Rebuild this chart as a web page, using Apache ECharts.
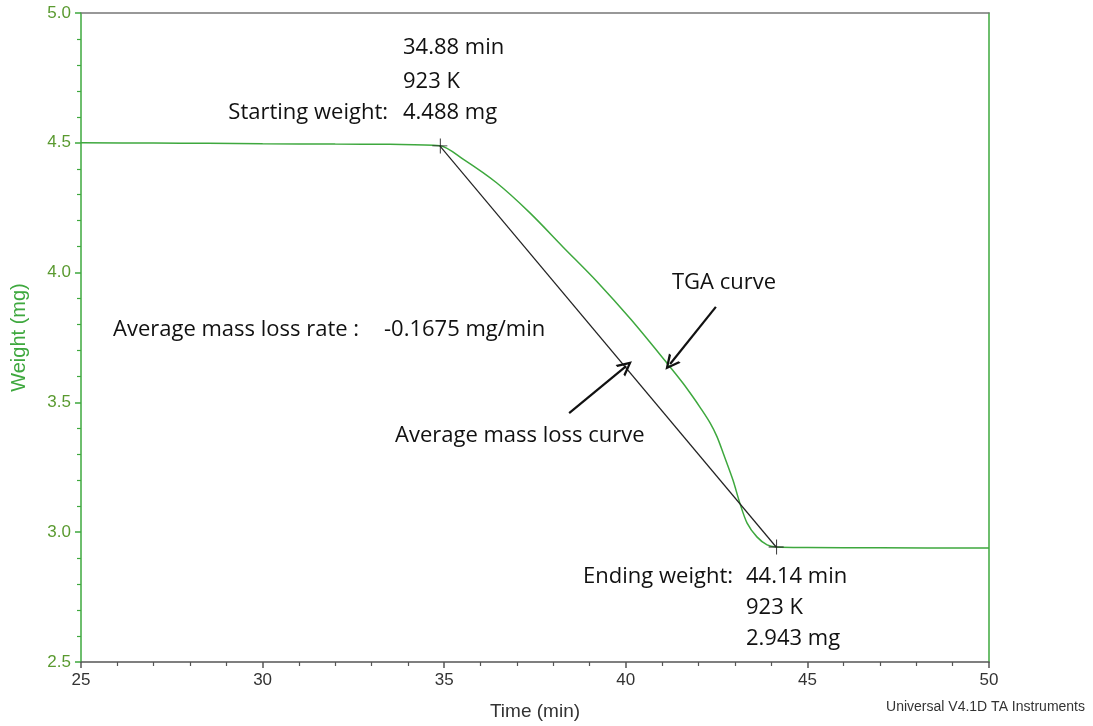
<!DOCTYPE html>
<html>
<head>
<meta charset="utf-8">
<script src="https://cdn.jsdelivr.net/npm/echarts@6/dist/echarts.min.js"></script>
<style>html,body{margin:0;padding:0;background:#fff}#c{width:1093px;height:726px}</style>
</head>
<body>
<div id="c"></div>
<script>
// TGA curve: time (min) and weight (mg)
const tgaTime   = [25, 27, 28.5, 30, 32, 33.5, 34.88, 35.52, 36.45, 37.36, 38.27, 39.21, 40.15, 41.13, 41.57, 41.85, 42.04, 42.32, 42.51, 42.68, 42.95, 43.14, 43.34, 43.61, 43.89, 44.14, 45, 47, 50];
const tgaWeight = [4.500, 4.499, 4.498, 4.496, 4.495, 4.494, 4.489, 4.437, 4.345, 4.230, 4.099, 3.965, 3.818, 3.652, 3.575, 3.521, 3.482, 3.421, 3.368, 3.305, 3.201, 3.112, 3.035, 2.982, 2.951, 2.943, 2.941, 2.940, 2.939];
// Average mass loss line (start -> end)
const avgTime   = [34.88, 44.14];
const avgWeight = [4.488, 2.943];
// Arrow annotations [from, to] in data units
const tgaArrow  = [[42.48, 3.868], [41.22, 3.648]];
const avgArrow  = [[38.44, 3.459], [40.01, 3.640]];
// Axis ticks
const xTicks = {min: 25, max: 50, interval: 5};
const yTicks = {min: 2.5, max: 5.0, interval: 0.5};

const GREEN = '#3ea83e';
const AXGRAY = '#555';
const annFont = '"Open Sans", Lato, sans-serif';
const chevron = 'path://M5,0 L10,11 L8.2,11 L5,3.6 L1.8,11 L0,11 Z';
const plus = 'path://M5,0 L5.6,0 L5.6,4.7 L10,4.7 L10,5.3 L5.6,5.3 L5.6,10 L5,10 L5,5.3 L0,5.3 L0,4.7 L5,4.7 Z';

const chart = echarts.init(document.getElementById('c'));
function txt(x, y, s, align) {
  return {type: 'text', x: x, y: y, style: {text: s, font: '22px ' + annFont, fill: '#111', align: align || 'left', verticalAlign: 'middle'}};
}
chart.setOption({
  animation: false,
  grid: {left: 81, right: 104, top: 13, bottom: 64, outerBoundsMode: 'none', containLabel: false},
  xAxis: [{
    type: 'value', min: xTicks.min, max: xTicks.max, interval: xTicks.interval,
    name: 'Time (min)', nameLocation: 'middle', nameGap: 40,
    nameTextStyle: {fontFamily: 'Liberation Sans, Arial', fontSize: 19, color: '#333'},
    axisLine: {show: true, lineStyle: {color: AXGRAY, width: 1.5}},
    axisTick: {show: true, length: 6, lineStyle: {color: AXGRAY, width: 1.5}},
    minorTick: {show: true, splitNumber: 5, length: 4, lineStyle: {color: AXGRAY, width: 1.2}},
    axisLabel: {fontFamily: 'Liberation Sans, Arial', fontSize: 17, color: '#333', margin: 10},
    splitLine: {show: false}
  }, {
    type: 'value', position: 'top', min: xTicks.min, max: xTicks.max,
    axisLine: {show: true, onZero: false, lineStyle: {color: '#777', width: 1.5}},
    axisTick: {show: false}, axisLabel: {show: false}, splitLine: {show: false}
  }],
  yAxis: [{
    type: 'value', min: yTicks.min, max: yTicks.max, interval: yTicks.interval,
    name: 'Weight (mg)', nameLocation: 'middle', nameGap: 52, nameRotate: 90,
    nameTextStyle: {fontFamily: 'Liberation Sans, Arial', fontSize: 20, color: GREEN},
    axisLine: {show: true, lineStyle: {color: GREEN, width: 1.5}},
    axisTick: {show: true, length: 6, lineStyle: {color: GREEN, width: 1.5}},
    minorTick: {show: true, splitNumber: 5, length: 4, lineStyle: {color: GREEN, width: 1.2}},
    axisLabel: {fontFamily: 'Liberation Sans, Arial', fontSize: 17, color: '#5a9a30', margin: 10,
      formatter: v => v.toFixed(1)},
    splitLine: {show: false}
  }, {
    type: 'value', position: 'right', min: yTicks.min, max: yTicks.max,
    axisLine: {show: true, onZero: false, lineStyle: {color: GREEN, width: 1.5}},
    axisTick: {show: false}, axisLabel: {show: false}, splitLine: {show: false}
  }],
  series: [{
    type: 'line', name: 'TGA', smooth: 0.3, symbol: 'none',
    data: tgaTime.map((t, i) => [t, tgaWeight[i]]),
    lineStyle: {color: GREEN, width: 1.5}, z: 3
  }, {
    type: 'line', name: 'Average', symbol: plus, symbolSize: 15, showSymbol: true,
    data: avgTime.map((t, i) => [t, avgWeight[i]]),
    lineStyle: {color: '#222', width: 1.2},
    itemStyle: {color: '#222', borderWidth: 0},
    z: 4,
    markLine: {
      silent: true, symbol: ['none', chevron], symbolSize: [15, 15], label: {show: false},
      lineStyle: {color: '#111', width: 2.2, type: 'solid'},
      data: [
        [{coord: tgaArrow[0]}, {coord: tgaArrow[1]}],
        [{coord: avgArrow[0]}, {coord: avgArrow[1]}]
      ]
    }
  }],
  graphic: [
    txt(403, 48, '34.88 min'),
    txt(403, 82, '923 K'),
    txt(403, 113, '4.488 mg'),
    txt(388, 113, 'Starting weight:', 'right'),
    txt(672, 283, 'TGA curve'),
    txt(113, 330, 'Average mass loss rate :'),
    txt(384, 330, '-0.1675 mg/min'),
    txt(395, 436, 'Average mass loss curve'),
    txt(733, 577, 'Ending weight:', 'right'),
    txt(746, 577, '44.14 min'),
    txt(746, 608, '923 K'),
    txt(746, 639, '2.943 mg'),
    {type: 'text', x: 1085, y: 707, style: {text: 'Universal V4.1D TA Instruments', font: '14px "Liberation Sans", Arial', fill: '#333', align: 'right', verticalAlign: 'middle'}}
  ]
});
</script>
</body>
</html>
